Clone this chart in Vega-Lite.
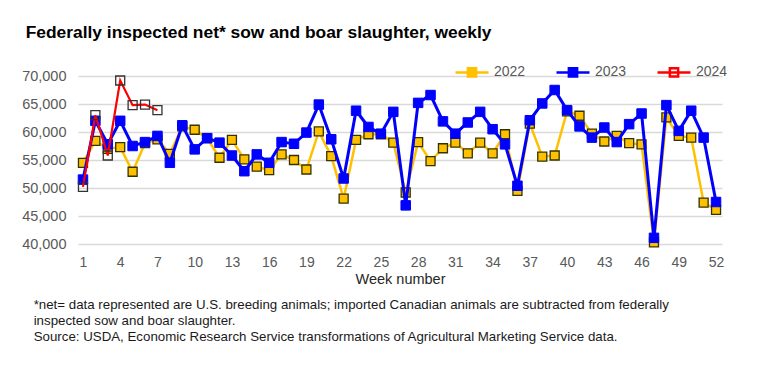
{
  "$schema": "https://vega.github.io/schema/vega-lite/v6.json",
  "padding": {"left": 21, "top": 23, "right": 5, "bottom": 5},
  "background": "white",
  "title": {"text": "Federally inspected net* sow and boar slaughter, weekly", "anchor": "start", "frame": "bounds", "dx": 4, "font": "Liberation Sans", "fontSize": 17.4, "fontWeight": "bold", "color": "#000000", "offset": 13},
  "config": {"view": {"stroke": null}, "concat": {"spacing": 0}, "font": "Liberation Sans"},
  "vconcat": [
    {
      "width": 644,
      "height": 168,
      "title": {"text": ["*net= data represented are U.S. breeding animals; imported Canadian animals are subtracted from federally", "inspected sow and boar slaughter.", "Source: USDA, Economic Research Service transformations of Agricultural Marketing Service data."], "orient": "bottom", "anchor": "start", "frame": "bounds", "dx": 12, "font": "Liberation Sans", "fontSize": 13.3, "fontWeight": "normal", "color": "#1a1a1a", "lineHeight": 16, "offset": 12},
      "data": {"values": [
        {"week": 1, "year": "2022", "value": 54500}, {"week": 2, "year": "2022", "value": 58400}, {"week": 3, "year": "2022", "value": 57000}, {"week": 4, "year": "2022", "value": 57300}, {"week": 5, "year": "2022", "value": 52900}, {"week": 6, "year": "2022", "value": 58000}, {"week": 7, "year": "2022", "value": 58700}, {"week": 8, "year": "2022", "value": 56100}, {"week": 9, "year": "2022", "value": 61000}, {"week": 10, "year": "2022", "value": 60400}, {"week": 11, "year": "2022", "value": 58900}, {"week": 12, "year": "2022", "value": 55400}, {"week": 13, "year": "2022", "value": 58600}, {"week": 14, "year": "2022", "value": 55100}, {"week": 15, "year": "2022", "value": 53800}, {"week": 16, "year": "2022", "value": 53200}, {"week": 17, "year": "2022", "value": 56000}, {"week": 18, "year": "2022", "value": 55000}, {"week": 19, "year": "2022", "value": 53300}, {"week": 20, "year": "2022", "value": 60100}, {"week": 21, "year": "2022", "value": 55700}, {"week": 22, "year": "2022", "value": 48100}, {"week": 23, "year": "2022", "value": 58600}, {"week": 24, "year": "2022", "value": 59600}, {"week": 25, "year": "2022", "value": 59600}, {"week": 26, "year": "2022", "value": 58100}, {"week": 27, "year": "2022", "value": 49200}, {"week": 28, "year": "2022", "value": 58200}, {"week": 29, "year": "2022", "value": 54800}, {"week": 30, "year": "2022", "value": 57100}, {"week": 31, "year": "2022", "value": 58100}, {"week": 32, "year": "2022", "value": 56200}, {"week": 33, "year": "2022", "value": 58100}, {"week": 34, "year": "2022", "value": 56200}, {"week": 35, "year": "2022", "value": 59600}, {"week": 36, "year": "2022", "value": 49500}, {"week": 37, "year": "2022", "value": 61500}, {"week": 38, "year": "2022", "value": 55600}, {"week": 39, "year": "2022", "value": 55800}, {"week": 40, "year": "2022", "value": 63700}, {"week": 41, "year": "2022", "value": 62900}, {"week": 42, "year": "2022", "value": 59700}, {"week": 43, "year": "2022", "value": 58300}, {"week": 44, "year": "2022", "value": 59300}, {"week": 45, "year": "2022", "value": 58000}, {"week": 46, "year": "2022", "value": 57800}, {"week": 47, "year": "2022", "value": 40300}, {"week": 48, "year": "2022", "value": 62600}, {"week": 49, "year": "2022", "value": 59300}, {"week": 50, "year": "2022", "value": 59000}, {"week": 51, "year": "2022", "value": 47400}, {"week": 52, "year": "2022", "value": 46100},
        {"week": 1, "year": "2023", "value": 51500}, {"week": 2, "year": "2023", "value": 62000}, {"week": 3, "year": "2023", "value": 57800}, {"week": 4, "year": "2023", "value": 62000}, {"week": 5, "year": "2023", "value": 57500}, {"week": 6, "year": "2023", "value": 58200}, {"week": 7, "year": "2023", "value": 59300}, {"week": 8, "year": "2023", "value": 54500}, {"week": 9, "year": "2023", "value": 61200}, {"week": 10, "year": "2023", "value": 56900}, {"week": 11, "year": "2023", "value": 58900}, {"week": 12, "year": "2023", "value": 58100}, {"week": 13, "year": "2023", "value": 55800}, {"week": 14, "year": "2023", "value": 53000}, {"week": 15, "year": "2023", "value": 56000}, {"week": 16, "year": "2023", "value": 54500}, {"week": 17, "year": "2023", "value": 58200}, {"week": 18, "year": "2023", "value": 57900}, {"week": 19, "year": "2023", "value": 59900}, {"week": 20, "year": "2023", "value": 64900}, {"week": 21, "year": "2023", "value": 58700}, {"week": 22, "year": "2023", "value": 51700}, {"week": 23, "year": "2023", "value": 63800}, {"week": 24, "year": "2023", "value": 60900}, {"week": 25, "year": "2023", "value": 59700}, {"week": 26, "year": "2023", "value": 63600}, {"week": 27, "year": "2023", "value": 46900}, {"week": 28, "year": "2023", "value": 65200}, {"week": 29, "year": "2023", "value": 66600}, {"week": 30, "year": "2023", "value": 61900}, {"week": 31, "year": "2023", "value": 59700}, {"week": 32, "year": "2023", "value": 61700}, {"week": 33, "year": "2023", "value": 63600}, {"week": 34, "year": "2023", "value": 60500}, {"week": 35, "year": "2023", "value": 57800}, {"week": 36, "year": "2023", "value": 50400}, {"week": 37, "year": "2023", "value": 62100}, {"week": 38, "year": "2023", "value": 65100}, {"week": 39, "year": "2023", "value": 67500}, {"week": 40, "year": "2023", "value": 63900}, {"week": 41, "year": "2023", "value": 61000}, {"week": 42, "year": "2023", "value": 59000}, {"week": 43, "year": "2023", "value": 60800}, {"week": 44, "year": "2023", "value": 58200}, {"week": 45, "year": "2023", "value": 61400}, {"week": 46, "year": "2023", "value": 63300}, {"week": 47, "year": "2023", "value": 41100}, {"week": 48, "year": "2023", "value": 64800}, {"week": 49, "year": "2023", "value": 60200}, {"week": 50, "year": "2023", "value": 63800}, {"week": 51, "year": "2023", "value": 59000}, {"week": 52, "year": "2023", "value": 47500},
        {"week": 1, "year": "2024", "value": 50200}, {"week": 2, "year": "2024", "value": 63000}, {"week": 3, "year": "2024", "value": 55800}, {"week": 4, "year": "2024", "value": 69200}, {"week": 5, "year": "2024", "value": 64800}, {"week": 6, "year": "2024", "value": 64900}, {"week": 7, "year": "2024", "value": 63900}
      ]},
      "encoding": {
        "x": {"field": "week", "type": "quantitative", "scale": {"domain": [0.6, 52.48], "nice": false, "zero": false},
          "axis": {"values": [1, 4, 7, 10, 13, 16, 19, 22, 25, 28, 31, 34, 37, 40, 43, 46, 49, 52], "grid": false, "domain": false, "ticks": false, "tickSize": 0, "labelPadding": 11, "labelFont": "Liberation Sans", "labelFontSize": 14, "labelColor": "#595959", "title": "Week number", "titleFont": "Liberation Sans", "titleFontSize": 14.5, "titleFontWeight": "normal", "titleColor": "#262626", "titlePadding": 3}},
        "y": {"field": "value", "type": "quantitative", "scale": {"domain": [40000, 70000], "nice": false, "zero": false},
          "axis": {"values": [40000, 45000, 50000, 55000, 60000, 65000, 70000], "format": ",.0f", "grid": true, "gridColor": "#D9D9D9", "gridWidth": 1.3, "domain": false, "ticks": false, "tickSize": 0, "labelPadding": 12, "labelFont": "Liberation Sans", "labelFontSize": 14.5, "labelColor": "#595959", "title": null}}
      },
      "layer": [
        {"transform": [{"filter": "datum.year == '2022'"}], "mark": {"type": "line", "strokeWidth": 2.5},
         "encoding": {"color": {"field": "year", "type": "nominal", "scale": {"domain": ["2022", "2023", "2024"], "range": ["#FFC000", "#0000FF", "#FF0000"]},
           "legend": {"orient": "none", "legendX": 376, "legendY": -22, "direction": "horizontal", "title": null, "symbolType": "M-1,0H1M-0.25,-0.25H0.25V0.25H-0.25Z", "symbolSize": 1089, "symbolStrokeWidth": 2.5, "labelFont": "Liberation Sans", "labelFontSize": 14, "labelColor": "#595959", "labelOffset": 4, "columnPadding": 25,
             "encode": {"symbols": {"update": {"fill": [{"test": "datum.value == '2022'", "value": "#FFC000"}, {"test": "datum.value == '2023'", "value": "#0000FF"}, {"value": "#FFFFFF"}], "fillOpacity": {"value": 1}}}}}}}},
        {"transform": [{"filter": "datum.year == '2022'"}], "mark": {"type": "point", "shape": "square", "filled": true, "fill": "#FFC000", "stroke": "#333300", "strokeWidth": 1.3, "size": 81, "opacity": 1}},
        {"transform": [{"filter": "datum.year == '2023'"}], "mark": {"type": "line", "strokeWidth": 3},
         "encoding": {"color": {"field": "year", "type": "nominal"}}},
        {"transform": [{"filter": "datum.year == '2023'"}], "mark": {"type": "point", "shape": "square", "filled": true, "fill": "#0000FF", "stroke": "#0000FF", "strokeWidth": 1, "size": 90, "opacity": 1}},
        {"transform": [{"filter": "datum.year == '2024'"}], "mark": {"type": "line", "strokeWidth": 2.2},
         "encoding": {"color": {"field": "year", "type": "nominal"}}},
        {"transform": [{"filter": "datum.year == '2024'"}], "mark": {"type": "point", "shape": "square", "filled": false, "fill": "transparent", "stroke": "#333333", "strokeWidth": 1.3, "size": 81, "opacity": 1}}
      ]
    }
  ]
}
